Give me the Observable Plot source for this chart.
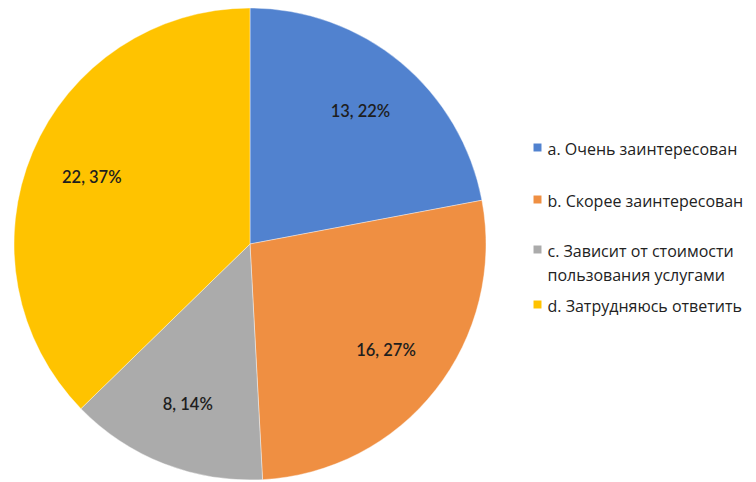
<!DOCTYPE html>
<html>
<head>
<meta charset="utf-8">
<script src="https://cdn.jsdelivr.net/npm/d3@7"></script>
<script src="https://cdn.jsdelivr.net/npm/@observablehq/plot@0.6"></script>
<style>
  html, body { margin: 0; padding: 0; background: #fff; }
  #chart svg { display: block; }
</style>
</head>
<body>
<div id="chart"></div>
<script>
// ---- data ----
const categories = [
  "a. Очень заинтересован",
  "b. Скорее заинтересован",
  "c. Зависит от стоимости\nпользования услугами",
  "d. Затрудняюсь ответить"
];
const counts = [13, 16, 8, 22];
const percents = [22, 27, 14, 37];
const colors = ["#5182CF", "#EF8F42", "#ABABAB", "#FFC300"];

// ---- layout ----
const W = 756, H = 482;
const cx = 250, cy = 244, R = 236;
const labelR = R * 0.73;
const legendX = 537, legendTextX = 547;
const legendRowY = [147, 199, 249, 304];

const rows = categories.map((c, i) => ({
  key: c, count: counts[i], pct: percents[i], color: colors[i]
}));
const arcs = d3.pie().sort(null).value(d => d.count)(rows);
const arcGen = d3.arc().innerRadius(0).outerRadius(R);
const labelArc = d3.arc().innerRadius(labelR).outerRadius(labelR);
const labels = arcs.map(a => {
  const [dx, dy] = labelArc.centroid(a);
  return {x: cx + dx, y: cy + dy, text: `${a.data.count}, ${a.data.pct}%`};
});
const legend = rows.map((r, i) => ({...r, y: legendRowY[i]}));

// pie slices drawn as a custom Plot mark using the chart's scales
function pieMark(index, scales, values, dimensions) {
  const g = d3.create("svg:g");
  g.selectAll("path")
    .data(arcs)
    .join("path")
    .attr("transform", `translate(${scales.x(cx)},${scales.y(cy)})`)
    .attr("d", arcGen)
    .attr("fill", d => d.data.color)
    .attr("stroke", "#fff")
    .attr("stroke-width", 0.4);
  return g.node();
}

const chart = Plot.plot({
  width: W,
  height: H,
  margin: 0,
  x: {type: "identity", axis: null},
  y: {type: "identity", axis: null},
  style: {fontFamily: "'Open Sans', 'DejaVu Sans', sans-serif", background: "#fff"},
  marks: [
    pieMark,
    Plot.text(labels, {
      x: "x", y: "y", text: "text",
      fontSize: 16.5, fill: "#1e1e1e", fontFamily: "Lato, 'Open Sans', sans-serif",
      fontWeight: 600
    }),
    Plot.dot(legend, {
      x: () => legendX, y: "y", symbol: "square", r: 4.5,
      fill: "color", stroke: null
    }),
    Plot.text(legend, {
      x: () => legendTextX, y: "y", text: "key",
      textAnchor: "start", lineAnchor: "top", dy: -10,
      lineHeight: 1.5, fontSize: 16, fill: "#222"
    })
  ]
});
document.getElementById("chart").appendChild(chart);
</script>
</body>
</html>
